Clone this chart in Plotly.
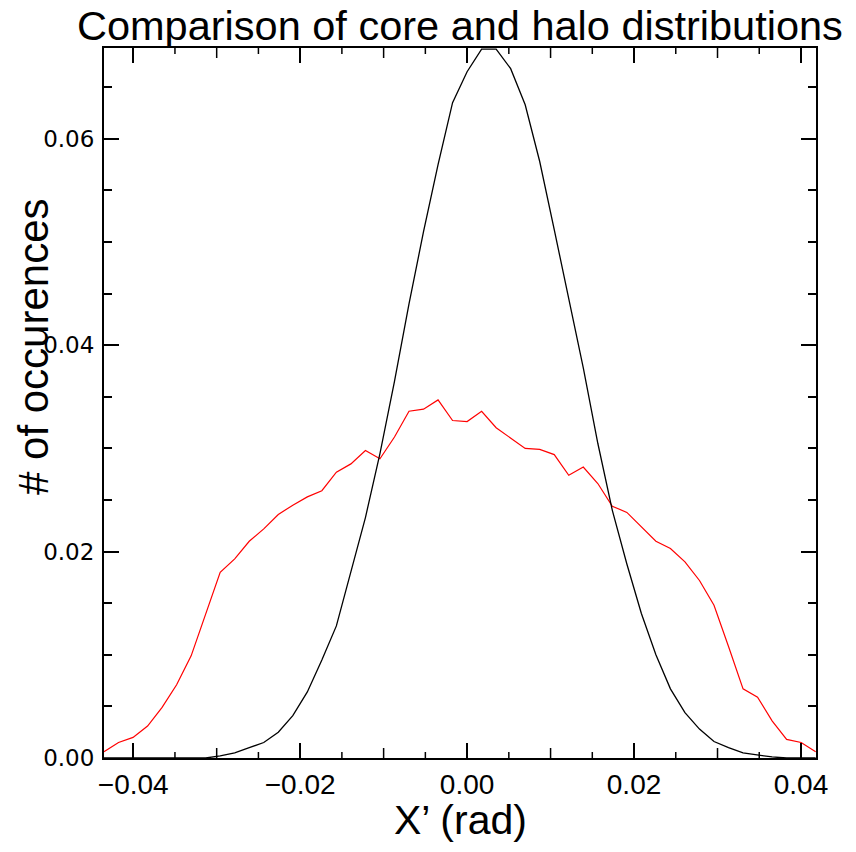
import plotly.graph_objects as go

# bin centres (rad)
x_bins = [-0.04350, -0.04176, -0.04002, -0.03828, -0.03654, -0.03480, -0.03306, -0.03132,
          -0.02958, -0.02784, -0.02610, -0.02436, -0.02262, -0.02088, -0.01914, -0.01740,
          -0.01566, -0.01392, -0.01218, -0.01044, -0.00870, -0.00696, -0.00522, -0.00348,
          -0.00174, 0.00000, 0.00174, 0.00348, 0.00522, 0.00696, 0.00870, 0.01044,
          0.01218, 0.01392, 0.01566, 0.01740, 0.01914, 0.02088, 0.02262, 0.02436,
          0.02610, 0.02784, 0.02958, 0.03132, 0.03306, 0.03480, 0.03654, 0.03828,
          0.04002, 0.04176]

halo = [0.0006, 0.0015, 0.0020, 0.0031, 0.0049, 0.0071, 0.0099, 0.0140,
        0.0180, 0.0193, 0.0210, 0.0222, 0.0236, 0.0245, 0.0253, 0.0259,
        0.0277, 0.0285, 0.0298, 0.0290, 0.0311, 0.0336, 0.0338, 0.0347,
        0.0327, 0.0326, 0.0336, 0.0320, 0.0310, 0.0300, 0.0299, 0.0294,
        0.0274, 0.0282, 0.0266, 0.0244, 0.0238, 0.0224, 0.0210, 0.0203,
        0.0190, 0.0172, 0.0148, 0.0108, 0.0067, 0.0059, 0.0036, 0.0018,
        0.0015, 0.0006]

core = [0.0, 0.0, 0.0, 0.0, 0.0, 0.0, 0.0, 0.0,
        0.0002, 0.0005, 0.0010, 0.0015, 0.0025, 0.0041, 0.0064, 0.0095,
        0.0128, 0.0180, 0.0233, 0.0295, 0.0365, 0.0440, 0.0510, 0.0575,
        0.0635, 0.0665, 0.0687, 0.0687, 0.0668, 0.0633, 0.0578, 0.0512,
        0.0445, 0.0378, 0.0305, 0.0240, 0.0188, 0.0140, 0.0100, 0.0067,
        0.0044, 0.0028, 0.0016, 0.0010, 0.0005, 0.0003, 0.0001, 0.0,
        0.0, 0.0]

x_label_ticks = [-0.04, -0.02, 0.0, 0.02, 0.04]
x_mid_ticks = [-0.03, -0.01, 0.01, 0.03]
x_minor_ticks = [-0.035, -0.025, -0.015, -0.005, 0.005, 0.015, 0.025, 0.035]
y_label_ticks = [0.0, 0.02, 0.04, 0.06]
x_range = [-0.0435, 0.0418]
y_range = [0.0, 0.0688]

title_text = "Comparison of core and halo distributions"
x_title = "X’ (rad)"
y_title = "# of occurences"

fig = go.Figure()
fig.add_trace(go.Scatter(x=x_bins, y=halo, mode="lines",
                         line=dict(color="#ff0000", width=1.2), showlegend=False))
fig.add_trace(go.Scatter(x=x_bins, y=core, mode="lines",
                         line=dict(color="#000000", width=1.3), showlegend=False))

# shorter x-axis tick marks (bottom and mirrored on top), lengths in pixels
plot_h = 852 - 48 - 94
for vals, length in ((x_mid_ticks, 10), (x_minor_ticks, 6)):
    frac = length / plot_h
    for v in vals:
        for y0, y1 in ((0, frac), (1 - frac, 1)):
            fig.add_shape(type="line", xref="x", yref="paper", x0=v, x1=v,
                          y0=y0, y1=y1, layer="above",
                          line=dict(color="black", width=1.5))

fig.update_layout(
    width=856, height=852,
    margin=dict(l=104, r=40, t=48, b=94, pad=0),
    paper_bgcolor="white", plot_bgcolor="white",
    showlegend=False,
    xaxis=dict(range=x_range, tickvals=x_label_ticks, tickformat=".2f",
               ticks="inside", ticklen=15, tickwidth=1.5, tickcolor="black",
               showline=True, linewidth=2, linecolor="black", mirror="allticks",
               showgrid=False, zeroline=False,
               tickfont=dict(family="Liberation Sans", size=28, color="black")),
    yaxis=dict(range=y_range, tickvals=y_label_ticks, tickformat=".2f",
               ticks="inside", ticklen=15, tickwidth=1.5, tickcolor="black",
               showline=True, linewidth=2, linecolor="black", mirror="allticks",
               showgrid=False, zeroline=False, ticklabelstandoff=3,
               tickfont=dict(family="DejaVu Sans", size=23, color="black"),
               minor=dict(dtick=0.005, tick0=0, ticks="inside", ticklen=8,
                          tickwidth=1.5, tickcolor="black", showgrid=False)),
    annotations=[
        dict(text=title_text, xref="paper", yref="paper", x=0.5, y=1.032,
             xanchor="center", yanchor="middle", showarrow=False,
             font=dict(family="Liberation Sans", size=41.5, color="black")),
        dict(text=x_title, xref="paper", yref="paper", x=0.5, y=-0.087,
             xanchor="center", yanchor="middle", showarrow=False,
             font=dict(family="Liberation Sans", size=41, color="black")),
        dict(text=y_title, xref="paper", yref="paper", x=-0.1, y=0.58,
             xanchor="center", yanchor="middle", showarrow=False, textangle=-90,
             font=dict(family="Liberation Sans", size=42, color="black")),
    ],
)

fig.write_html("out.html")
